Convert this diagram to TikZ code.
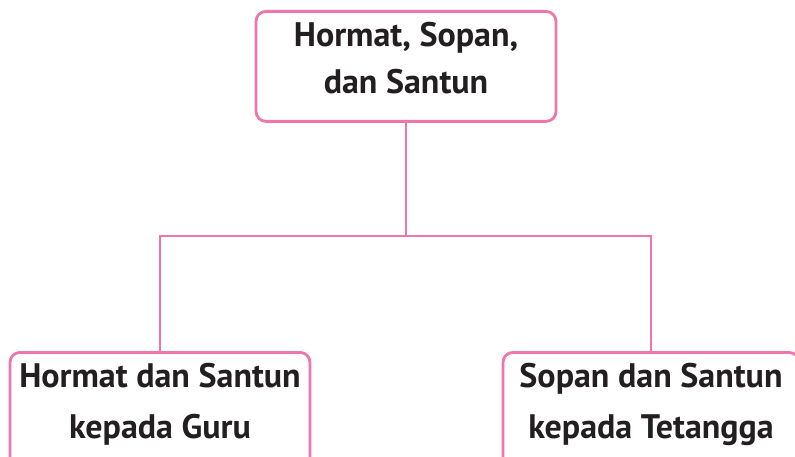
\documentclass[tikz,border=0pt]{standalone}
\usepackage{fontspec}
\setmainfont{PT Sans}
\definecolor{pinkline}{RGB}{238,118,172}
\definecolor{textcol}{RGB}{35,31,32}
\tikzset{
  box/.style={draw=pinkline, line width=2.8pt, rounded corners=10pt, fill=white},
  lbl/.style={text=textcol, font=\bfseries\fontsize{34}{46}\selectfont, align=center, inner sep=0pt},
  conn/.style={draw=pinkline, line width=2.8pt}
}
\begin{document}
\begin{tikzpicture}[x=1pt,y=-1pt]
\useasboundingbox (0,0) rectangle (795,457);
\clip (0,0) rectangle (795,457);
% boxes
\node[box, minimum width=300pt, minimum height=110pt, anchor=north] (top) at (406,10) {};
\node[box, minimum width=300pt, minimum height=125pt, anchor=north] (guru) at (160,351) {};
\node[box, minimum width=296pt, minimum height=125pt, anchor=north] (tetangga) at (651,351) {};
% labels
\node[lbl, anchor=base] (topA) at (406,47) {Hormat, Sopan,};
\node[lbl, anchor=base] (topB) at (406,94) {dan Santun};
\node[lbl, anchor=base] (guruA) at (160,387) {Hormat dan Santun};
\node[lbl, anchor=base] (guruB) at (160,438) {kepada Guru};
\node[lbl, anchor=base] (tetA) at (651,387) {Sopan dan Santun};
\node[lbl, anchor=base] (tetB) at (651,438) {kepada Tetangga};
% connectors
\coordinate (mid) at (406,236);
\draw[conn] (top.south) -- (mid);
\draw[conn] (guru.north) |- (mid) -| (tetangga.north);
\end{tikzpicture}
\end{document}
